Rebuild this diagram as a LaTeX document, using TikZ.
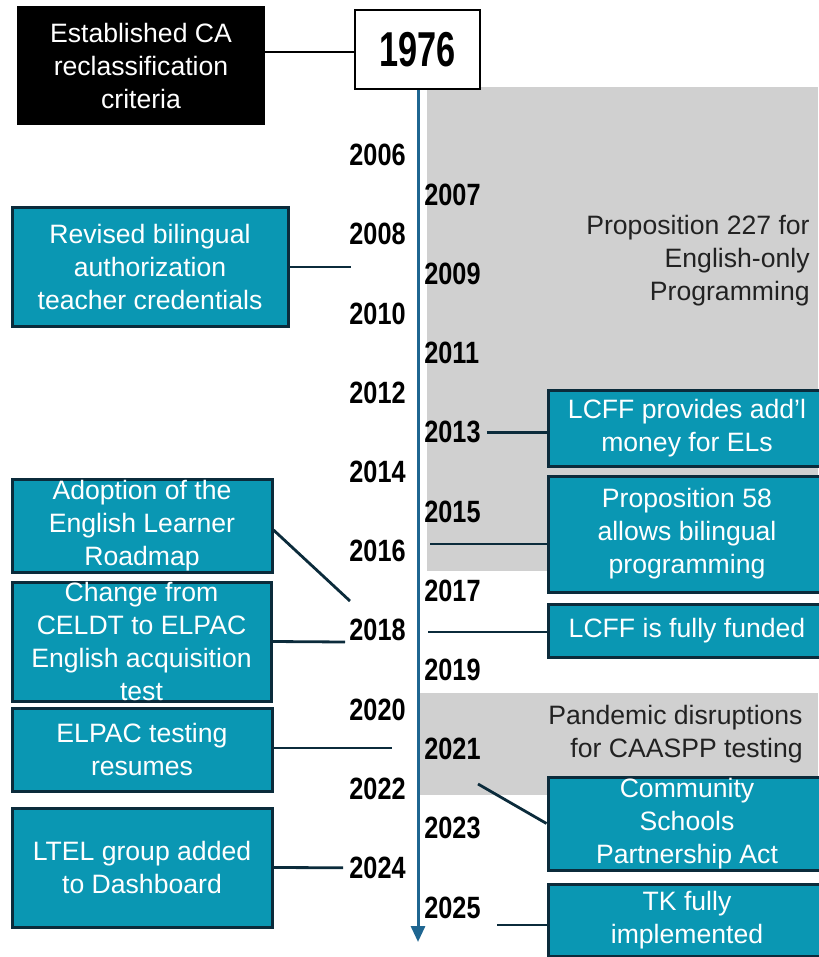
\documentclass[tikz,border=0pt]{standalone}
\usepackage{fontspec}
\setmainfont{Liberation Sans}
\newfontfamily\yearfont[FakeStretch=0.82]{Liberation Sans}
\newfontfamily\bigyearfont[FakeStretch=0.70]{Liberation Sans}
\usetikzlibrary{arrows.meta}
\definecolor{evfill}{HTML}{0A97B3}
\definecolor{evedge}{HTML}{0B2B3B}
\definecolor{axisblue}{HTML}{1F6691}
\definecolor{bandgray}{HTML}{D0D0D0}
\definecolor{notetext}{HTML}{222222}
\begin{document}
\begin{tikzpicture}[x=0.5pt,y=-0.5pt,
  bodyfont/.style={font=\fontsize{13.3}{16.5}\selectfont},
  evt/.style={bodyfont, draw=evedge, line width=1.5pt, fill=evfill,
    text=white, align=center, inner sep=0pt},
  rootbox/.style={bodyfont, fill=black, text=white, align=center, inner sep=0pt},
  yearbox/.style={draw=black, line width=1pt, fill=white, inner sep=0pt,
    font={\bigyearfont\bfseries\fontsize{24.5}{26}\selectfont}},
  yr/.style={inner sep=0pt, font={\yearfont\bfseries\fontsize{15.4}{16}\selectfont}},
  note/.style={bodyfont, text=notetext, align=right, inner sep=0pt},
  band/.style={fill=bandgray, draw=none},
  link/.style={draw=evedge, line width=1.4pt},
  axis/.style={draw=axisblue, line width=1.5pt, -{Triangle[width=7pt,length=8pt]}}]
\useasboundingbox (0,0) rectangle (818,957);

% shaded periods
\fill[band] (427,87) rectangle (818,571);
\fill[band] (420,693) rectangle (818,795);
\node[note, anchor=east] (prop227) at (810,261)
  {Proposition 227 for\\English-only\\Programming};
\node[note, anchor=east] (pandemic) at (803,734.5)
  {Pandemic disruptions\\for CAASPP testing};

% time axis
\coordinate (tlend) at (418,942);
\draw[axis] (418,89) -- (tlend);

% starting point
\node[yearbox, minimum width=62.5pt, minimum height=39.5pt] (t76) at (417.5,49.5) {1976};
\node[rootbox, minimum width=124pt, minimum height=59.5pt] (root) at (141,65.5)
  {Established CA\\reclassification\\criteria};
\draw[line width=1.4pt] (root.east |- 0,52) -- (t76.west |- 0,52);

% year ticks
\foreach \k in {0,2,...,18} {
  \pgfmathsetmacro\yy{155+39.6*\k}
  \pgfmathtruncatemacro\yn{2006+\k}
  \node[yr, anchor=east] (y\yn) at (406,\yy) {\yn};
}
\foreach \k in {1,3,...,19} {
  \pgfmathsetmacro\yy{155+39.6*\k}
  \pgfmathtruncatemacro\yn{2006+\k}
  \node[yr, anchor=west] (y\yn) at (424,\yy) {\yn};
}

% events on the left
\node[evt, minimum width=138pt, minimum height=59pt] (revised) at (150,267)
  {Revised bilingual\\authorization\\teacher credentials};
\node[evt, minimum width=130pt, minimum height=46.5pt] (roadmap) at (142,525.5)
  {Adoption of the\\English Learner\\Roadmap};
\node[evt, minimum width=129.5pt, minimum height=59.5pt] (elpac) at (141.5,641.5)
  {Change from\\CELDT to ELPAC\\English acquisition\\test};
\node[evt, minimum width=130pt, minimum height=41.5pt] (resumes) at (142,749.5)
  {ELPAC testing\\resumes};
\node[evt, minimum width=130pt, minimum height=59.5pt] (ltel) at (142,867.5)
  {LTEL group added\\to Dashboard};

% events on the right
\node[evt, minimum width=139pt, minimum height=38pt] (lcff) at (687,428)
  {LCFF provides add’l\\money for ELs};
\node[evt, minimum width=139pt, minimum height=58pt] (prop58) at (687,534)
  {Proposition 58\\allows bilingual\\programming};
\node[evt, minimum width=139pt, minimum height=26.5pt] (funded) at (687,630.5)
  {LCFF is fully funded};
\node[evt, minimum width=139pt, minimum height=46.5pt] (csp) at (687,823.5)
  {Community\\Schools\\Partnership Act};
\node[evt, minimum width=139pt, minimum height=36pt] (tk) at (687,920)
  {TK fully\\implemented};

% connector ends near the axis
\coordinate (revisedEnd) at (351,267);
\coordinate (roadmapEnd) at (350,601);
\coordinate (elpacEnd) at (345,642);
\coordinate (resumesEnd) at (392,748);
\coordinate (prop58End) at (430,544);
\coordinate (fundedEnd) at (428,632);
\coordinate (cspEnd) at (478,784);
\coordinate (tkEnd) at (497,925);

% connectors
\draw[link] (revised.east) -- (revisedEnd);
\draw[link] (roadmap.east |- 0,530) -- (roadmapEnd);
\draw[link] (elpac.east) -- (elpacEnd);
\draw[link] (resumes.east |- 0,748) -- (resumesEnd);
\draw[link, shorten >=3pt] (ltel.east) -- (y2024.west);
\draw[link, shorten <=3pt] (y2013.east) -- (lcff.west |- y2013.east);
\draw[link] (prop58End) -- (prop58.west |- prop58End);
\draw[link] (fundedEnd) -- (funded.west |- fundedEnd);
\draw[link] (cspEnd) -- (csp.west);
\draw[link] (tkEnd) -- (tk.west |- tkEnd);
\end{tikzpicture}
\end{document}
